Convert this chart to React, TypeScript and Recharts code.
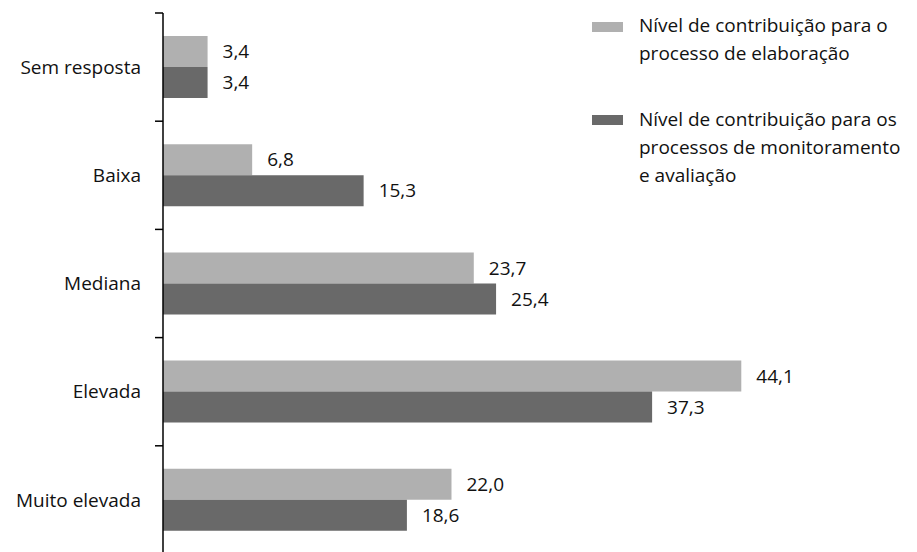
import React from 'react';
import { BarChart, Bar, XAxis, YAxis, LabelList } from 'recharts';

// Categories and percentage values per series
const categories = ['Sem resposta', 'Baixa', 'Mediana', 'Elevada', 'Muito elevada'];
const elaboracao = [3.4, 6.8, 23.7, 44.1, 22.0];
const monitoramento = [3.4, 15.3, 25.4, 37.3, 18.6];
const seriesNames = [
  'Nível de contribuição para o processo de elaboração',
  'Nível de contribuição para os processos de monitoramento e avaliação',
];
const legendLines = [
  ['Nível de contribuição para o', 'processo de elaboração'],
  ['Nível de contribuição para os', 'processos de monitoramento', 'e avaliação'],
];

const data = categories.map((c, i) => ({
  categoria: c,
  elaboracao: elaboracao[i],
  monitoramento: monitoramento[i],
}));

const WIDTH = 917;
const HEIGHT = 560;
const MARGIN = { top: 13, right: 0, bottom: 6, left: 0 };
const AXIS_WIDTH = 163;
const FONT = '"Open Sans", sans-serif';
const LIGHT = '#b0b0b0';
const DARK = '#696969';

const bandSize = (HEIGHT - MARGIN.top - MARGIN.bottom) / categories.length;

const fmt = (v: number) => v.toFixed(1).replace('.', ',');

// Category label at the band centre, tick mark at the band's upper boundary
const CategoryTick = (props: any) => {
  const { y, payload } = props;
  const boundary = y - bandSize / 2;
  const axisX = MARGIN.left + AXIS_WIDTH;
  return (
    <g>
      <line x1={axisX - 8} x2={axisX} y1={boundary} y2={boundary} stroke="#000" strokeWidth={1.5} />
      <text
        x={axisX - 22}
        y={y}
        dy="0.355em"
        textAnchor="end"
        fill="#111"
        fontSize={19}
        fontFamily={FONT}
      >
        {payload.value}
      </text>
    </g>
  );
};

const SeriesLegend = () => (
  <div
    style={{
      position: 'absolute',
      left: 592,
      top: 0,
      fontFamily: FONT,
      fontSize: 19,
      color: '#111',
    }}
  >
    {[LIGHT, DARK].map((color, i) => (
      <div
        key={seriesNames[i]}
        style={{
          position: 'absolute',
          left: 0,
          top: i === 0 ? 11 : 105,
          display: 'flex',
          alignItems: 'flex-start',
        }}
      >
        <div
          style={{
            width: 31,
            height: 10,
            background: color,
            marginTop: i === 0 ? 11 : 10,
            marginRight: 16,
            flex: 'none',
          }}
        />
        <div style={{ lineHeight: '28px', whiteSpace: 'nowrap' }}>
          {legendLines[i].map((l) => (
            <div key={l}>{l}</div>
          ))}
        </div>
      </div>
    ))}
  </div>
);

export default function App() {
  return (
    <div style={{ position: 'absolute', left: 0, top: 0, width: WIDTH, height: 552, overflow: 'hidden', background: '#fff' }}>
      <BarChart
        width={WIDTH}
        height={HEIGHT}
        data={data}
        layout="vertical"
        margin={MARGIN}
        barCategoryGap={23}
        barGap={0}
      >
        <XAxis type="number" domain={[0, 57.5]} hide />
        <YAxis
          type="category"
          dataKey="categoria"
          width={AXIS_WIDTH}
          axisLine={{ stroke: '#000', strokeWidth: 1.5 }}
          tickLine={false}
          tick={<CategoryTick />}
          interval={0}
        />
        <Bar dataKey="elaboracao" name={seriesNames[0]} fill={LIGHT} isAnimationActive={false}>
          <LabelList
            dataKey="elaboracao"
            position="right"
            offset={15}
            formatter={(v: any) => fmt(Number(v))}
            style={{ fill: '#111', fontSize: 19, fontFamily: FONT }}
          />
        </Bar>
        <Bar dataKey="monitoramento" name={seriesNames[1]} fill={DARK} isAnimationActive={false}>
          <LabelList
            dataKey="monitoramento"
            position="right"
            offset={15}
            formatter={(v: any) => fmt(Number(v))}
            style={{ fill: '#111', fontSize: 19, fontFamily: FONT }}
          />
        </Bar>
      </BarChart>
      <SeriesLegend />
    </div>
  );
}
